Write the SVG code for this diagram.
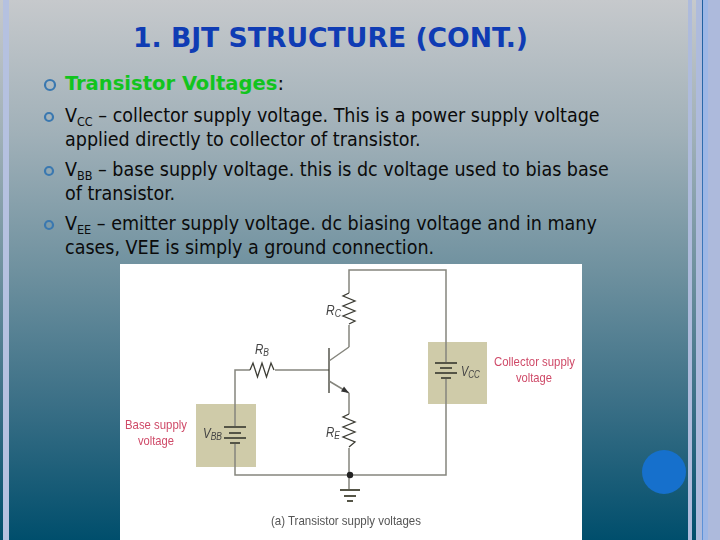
<svg xmlns="http://www.w3.org/2000/svg" width="720" height="540" viewBox="0 0 720 540">
<defs>
<linearGradient id="bg" x1="0" y1="0" x2="0" y2="1"><stop offset="0" stop-color="#c6c9cc"/><stop offset="0.25" stop-color="#a0b0b8"/><stop offset="0.5" stop-color="#6f919f"/><stop offset="0.75" stop-color="#3a6f86"/><stop offset="1" stop-color="#004e6c"/></linearGradient>
<linearGradient id="line" x1="0" y1="0" x2="0" y2="1"><stop offset="0" stop-color="#1f5f9f"/><stop offset="1" stop-color="#5f93d8"/></linearGradient>
<filter id="soft" x="-5%" y="-5%" width="110%" height="110%"><feGaussianBlur stdDeviation="0.55"/></filter>
</defs>
<style>
.b{font-family:"DejaVu Sans Condensed","DejaVu Sans",sans-serif;font-size:19.500px;fill:#0b0b0b}
.s{font-size:12.500px}
.w{fill:none;stroke:#85857d;stroke-width:1.5}
.k{fill:none;stroke:#3c3c34;stroke-width:1.3}
.t{stroke:#555546;stroke-width:2.2;fill:none}
.r{font-family:"Liberation Sans",sans-serif;font-size:13.500px;fill:#cf4a68;text-anchor:start}
.l{font-family:"Liberation Sans",sans-serif;font-style:italic;font-size:15px;fill:#444}
.ls{font-size:11px}
.dot{fill:none;stroke:#3a78b0;stroke-width:2.200}
</style>
<rect width="720" height="540" fill="url(#bg)"/>
<rect x="3" y="0" width="6" height="540" fill="#b5c1e0"/>
<g id="frame">
<rect x="688" y="0" width="4" height="540" fill="#aebbdc"/>
<rect x="696" y="0" width="6" height="540" fill="#aebbdc"/>
<rect x="702" y="0" width="1" height="540" fill="url(#line)"/>
<rect x="703" y="0" width="5" height="540" fill="#9db7e6"/>
<rect x="708" y="0" width="12" height="540" fill="#adbadc"/>
</g>
<circle id="corner-dot" cx="664" cy="472" r="22" fill="#1670cc"/>
<text x="133" y="47" font-family="DejaVu Sans Condensed,DejaVu Sans,sans-serif" font-weight="bold" font-size="27" fill="#0f3cb4" textLength="395" lengthAdjust="spacingAndGlyphs">1. BJT STRUCTURE (CONT.)</text>
<g id="bullets" class="dot">
<circle cx="50" cy="85" r="5"/><circle cx="49" cy="117" r="4"/><circle cx="49" cy="171" r="4"/><circle cx="49" cy="225" r="4"/>
</g>
<text class="b" x="65" y="90" font-weight="bold" style="fill:#12c41e" textLength="219" lengthAdjust="spacingAndGlyphs">Transistor Voltages<tspan style="fill:#0b0b0b" font-weight="normal">:</tspan></text>
<text class="b" x="65" y="122">V<tspan class="s" dy="4">CC</tspan><tspan dy="-4"> – collector supply voltage. This is a power supply voltage</tspan><tspan x="65" dy="24">applied directly to collector of transistor.</tspan></text>
<text class="b" x="65" y="176">V<tspan class="s" dy="4">BB</tspan><tspan dy="-4"> – base supply voltage. this is dc voltage used to bias base</tspan><tspan x="65" dy="24">of transistor.</tspan></text>
<text class="b" x="65" y="230">V<tspan class="s" dy="4">EE</tspan><tspan dy="-4"> – emitter supply voltage. dc biasing voltage and in many</tspan><tspan x="65" dy="24">cases, VEE is simply a ground connection.</tspan></text>
<rect x="120" y="264" width="462" height="276" fill="#fff"/>
<g id="circuit" filter="url(#soft)">
<g id="vbb-box"><rect x="196" y="404" width="60" height="63" fill="#cfcba9"/></g>
<g id="vcc-box"><rect x="428" y="342" width="59" height="62" fill="#cfcba9"/></g>
<g id="connectors">
<path class="w" d="M349 293V270H446V363M446 378V475H235V443M235 427V370H250M275 370H329"/>
<path class="w" d="M349 325V347M349 393V414M349 448V490"/>
<path class="k" d="M250 370l3 -7l4.500 14l4.500 -14l4.500 14l4.500 -14l3 7"/>
<path class="k" d="M349 293l-6 3l12 5l-12 5l12 5l-12 5l12 5l-6 3"/>
<path class="k" d="M349 414l-6 3l12 5l-12 5l12 5l-12 5l12 5l-6 5"/>
<path class="k" stroke-width="1.6" d="M329 348V393"/>
<path class="w" d="M329 361L349 347M329 381L349 393"/>
<path d="M349 393l-8 -1.500l3 -5z" fill="#333"/>
<circle cx="350" cy="475" r="3.200" fill="#222"/>
<path class="t" d="M340 490H360M344 496H356M347 501H353"/>
<path class="t" d="M224 427H246M229 433H241M224 438H246M230 443H240"/>
<path class="t" d="M435 363H457M440 368H452M435 373H457M441 378H451"/>
</g>
<text class="l" transform="translate(326 315) scale(.8 1)">R<tspan class="ls" dy="2">C</tspan></text>
<text class="l" transform="translate(255 354) scale(.77 1)">R<tspan class="ls" dy="2">B</tspan></text>
<text class="l" transform="translate(326 437) scale(.77 1)">R<tspan class="ls" dy="2">E</tspan></text>
<text class="l" transform="translate(203 438) scale(.77 1)">V<tspan class="ls" dy="2">BB</tspan></text>
<text class="l" transform="translate(461 376) scale(.73 1)">V<tspan class="ls" dy="2">CC</tspan></text>
<text class="r" x="125" y="429" textLength="62" lengthAdjust="spacingAndGlyphs">Base supply</text>
<text class="r" x="138" y="445" textLength="36" lengthAdjust="spacingAndGlyphs">voltage</text>
<text class="r" x="494" y="366" textLength="81" lengthAdjust="spacingAndGlyphs">Collector supply</text>
<text class="r" x="516" y="382" textLength="36" lengthAdjust="spacingAndGlyphs">voltage</text>
<text x="271" y="525" font-family="Liberation Sans,sans-serif" font-size="13" fill="#555" textLength="150" lengthAdjust="spacingAndGlyphs">(a)  Transistor supply voltages</text>
</g>
</svg>
